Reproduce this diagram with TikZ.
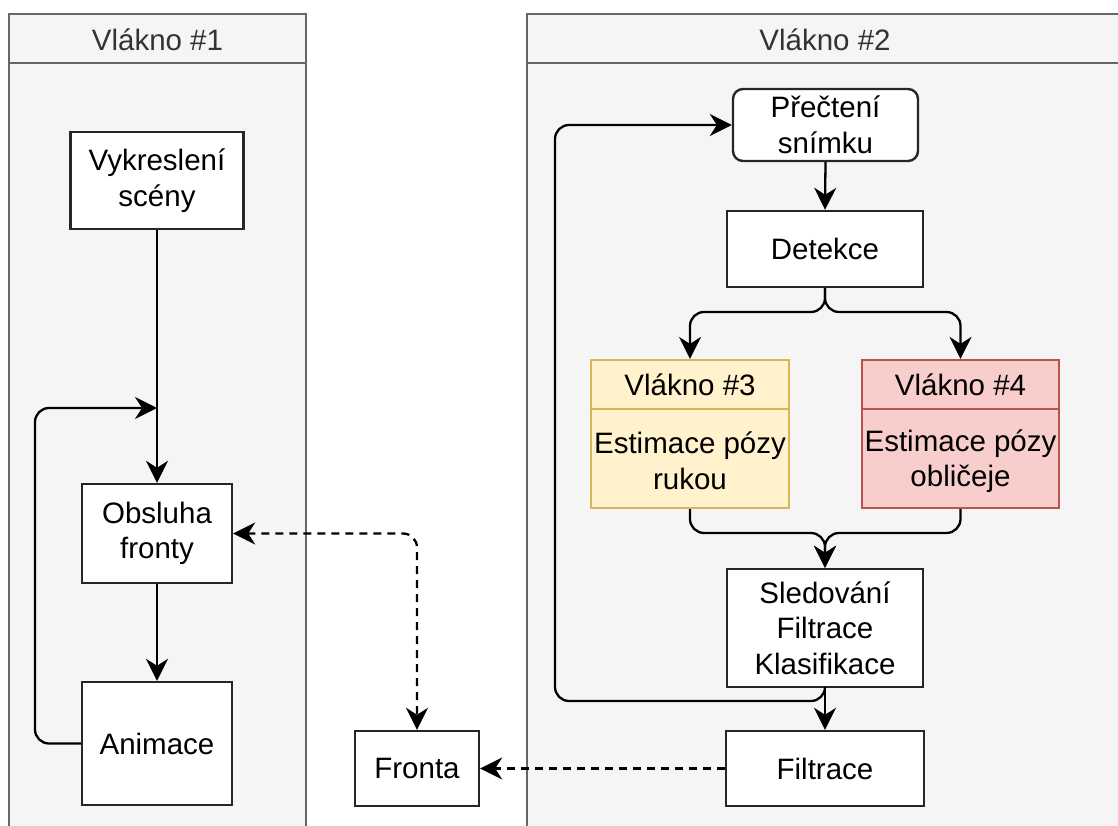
\documentclass[tikz,border=0pt]{standalone}
\usepackage{fontspec}
\setmainfont{Liberation Sans}
\usetikzlibrary{arrows.meta}
\definecolor{lanefill}{HTML}{F5F5F5}
\definecolor{lanestroke}{HTML}{666666}
\definecolor{lanetext}{HTML}{333333}
\definecolor{yelfill}{HTML}{FFF2CC}
\definecolor{yelstroke}{HTML}{D6B656}
\definecolor{redfill}{HTML}{F8CECC}
\definecolor{redstroke}{HTML}{B85450}
\tikzset{
  >={Stealth[length=22pt, width=22pt, inset=7pt]},
  every node/.style={font=\fontsize{29.5}{35.5}\selectfont, align=center, inner sep=0pt},
  lane/.style={draw=lanestroke, fill=lanefill, line width=2.2pt},
  lanetitle/.style={text=lanetext},
  box/.style={draw=black!85, fill=white, line width=2.4pt},
  flow/.style={line width=2.3pt, rounded corners=14pt, ->},
  queue/.style={line width=2.3pt, rounded corners=14pt, dash pattern=on 8pt off 6pt},
}
\begin{document}
\begin{tikzpicture}[x=1pt, y=-1pt]
\clip (0,0) rectangle (1118,826);
\fill[white] (0,0) rectangle (1118,826);

% swimlanes
\draw[lane] (9,14) rectangle (306,845);
\draw[lane] (9,63) -- (306,63);
\node[lanetitle] (t1) at (157.5,40) {Vlákno \#1};
\draw[lane] (527,14) rectangle (1130,845);
\draw[lane] (527,63) -- (1130,63);
\node[lanetitle] (t2) at (825,40) {Vlákno \#2};

% thread 1
\node[box, minimum width=173pt, minimum height=97pt] (vyk) at (157,180.5) {Vykreslení\\scény};
\node[box, minimum width=150pt, minimum height=99pt] (obs) at (157,533.5) {Obsluha\\fronty};
\node[box, minimum width=150pt, minimum height=123pt] (anim) at (157,743.5) {Animace};

% queue
\node[box, minimum width=124pt, minimum height=75pt] (fronta) at (417,768.5) {Fronta};

% thread 2
\node[box, rounded corners=10pt, minimum width=185pt, minimum height=72pt] (prec) at (825.5,125) {Přečtení\\snímku};
\node[box, minimum width=196pt, minimum height=76pt] (det) at (825,249) {Detekce};

\node[draw=yelstroke, fill=yelfill, line width=2.2pt, minimum width=198pt, minimum height=148pt] (v3) at (690,434) {};
\draw[yelstroke, line width=2.2pt] (v3.west |- 0,409) -- (v3.east |- 0,409);
\node (v3t) at (690,385) {Vlákno \#3};
\node (v3b) at (690,461) {Estimace pózy\\rukou};

\node[draw=redstroke, fill=redfill, line width=2.2pt, minimum width=197pt, minimum height=148pt] (v4) at (960.5,434) {};
\draw[redstroke, line width=2.2pt] (v4.west |- 0,409) -- (v4.east |- 0,409);
\node (v4t) at (960.5,385) {Vlákno \#4};
\node (v4b) at (960.5,461) {Estimace pózy\\obličeje};

\node[box, minimum width=196pt, minimum height=118pt] (sled) at (825,628) {Sledování\\Filtrace\\Klasifikace};
\node[box, minimum width=198pt, minimum height=75pt] (filt) at (825,768.5) {Filtrace};

% connectors, thread 1
\coordinate (join1) at (157,408);
\draw[flow] (vyk.south) -- (obs.north);
\draw[flow] (obs.south) -- (anim.north);
\draw[flow] (anim.west) -- (35,743.5) -- (35,408) -- (join1);

% queue connectors
\draw[queue, <->]
  (obs.east) -- (fronta.north |- obs.east) -- (fronta.north);
\draw[queue, ->] (filt.west) -- (fronta.east);

% connectors, thread 2
\draw[flow] (prec.south) -- (det.north);
\draw[flow] (det.south) -- (825,312) -- (690,312) -- (v3.north);
\draw[flow] (det.south) -- (825,312) -- (960.5,312) -- (v4.north);
\draw[flow] (v3.south) -- (690,533) -- (825,533) -- (sled.north);
\draw[flow] (v4.south) -- (960.5,533) -- (825,533) -- (sled.north);
\draw[flow] (sled.south) -- (filt.north);
\draw[flow] (sled.south) -- (825,701) -- (555,701) -- (555,125) -- (prec.west);
\end{tikzpicture}
\end{document}
